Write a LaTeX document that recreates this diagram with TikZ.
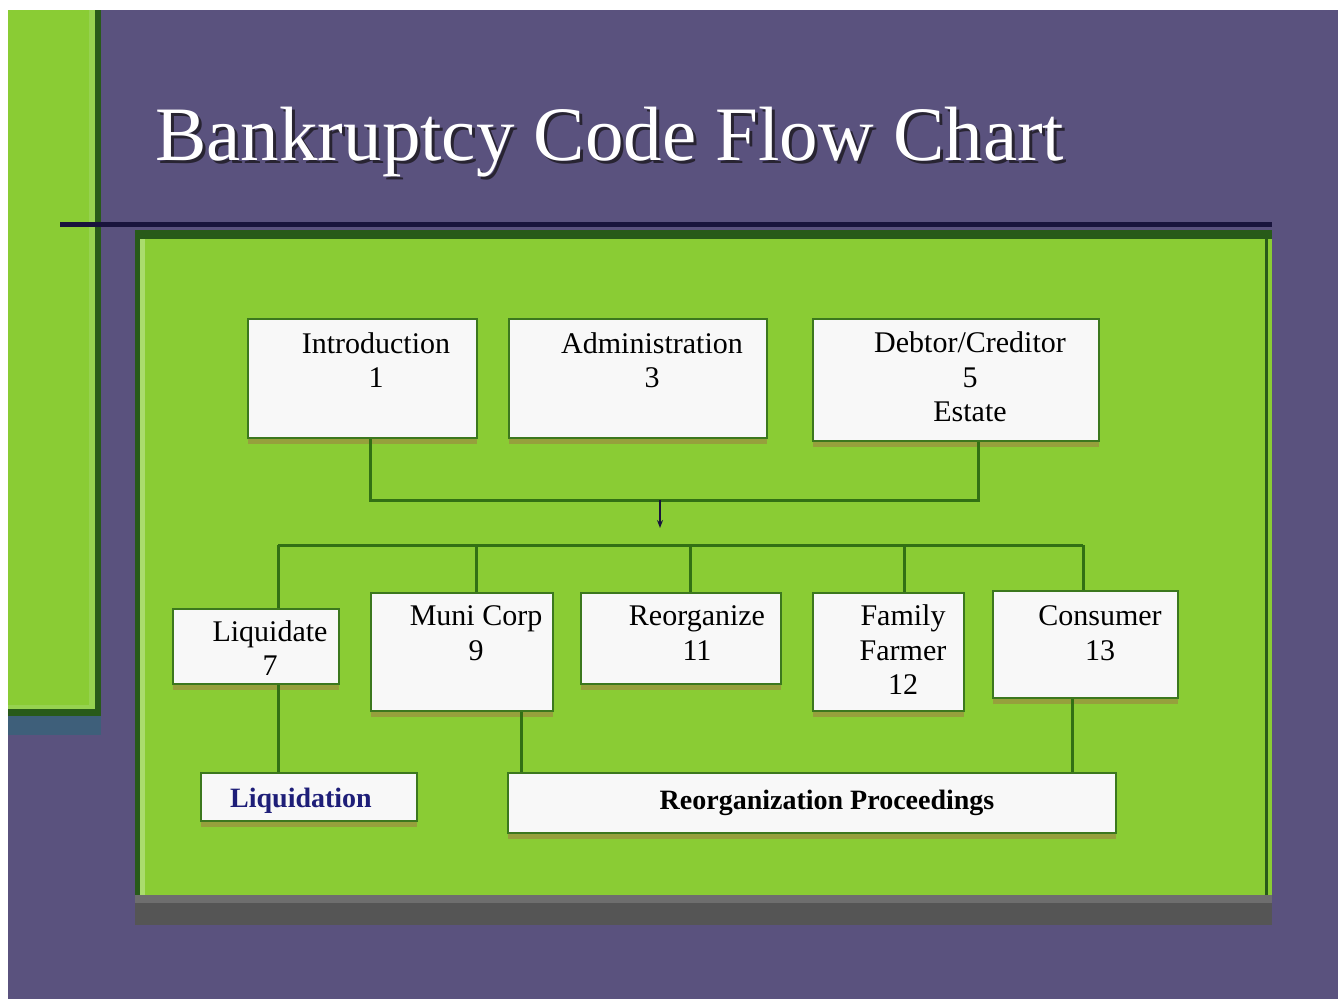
\documentclass[tikz,border=0pt]{standalone}
\usepackage{fontspec}
\setmainfont{Liberation Serif}
\usetikzlibrary{shadows,arrows.meta}
\definecolor{bgpurple}{RGB}{90,82,126}
\definecolor{panelgreen}{RGB}{138,204,52}
\definecolor{lightgreen}{RGB}{170,220,110}
\definecolor{softgreen}{RGB}{150,210,80}
\definecolor{paneledge}{RGB}{40,90,25}
\definecolor{linegreen}{RGB}{50,112,20}
\definecolor{boxfill}{RGB}{248,248,248}
\definecolor{boxedge}{RGB}{60,120,30}
\definecolor{boxshadow}{RGB}{150,160,60}
\definecolor{navyline}{RGB}{25,20,60}
\definecolor{greyshadow}{RGB}{85,85,85}
\definecolor{greylight}{RGB}{110,110,110}
\definecolor{stripblue}{RGB}{62,95,122}
\definecolor{liqblue}{RGB}{30,30,120}
\definecolor{titleshadow}{RGB}{40,36,50}
\begin{document}
\begin{tikzpicture}[x=0.5pt,y=-0.5pt,
  box/.style={draw=boxedge, line width=1pt, fill=boxfill, inner sep=0pt, anchor=north west,
    drop shadow={shadow xshift=0pt, shadow yshift=-3pt, fill=boxshadow, opacity=1}},
  lbl/.style={font=\fontsize{15}{17.25}\selectfont, align=center, inner sep=0pt, text=black},
  blbl/.style={font=\fontsize{14}{16}\selectfont\bfseries, inner sep=0pt},
  conn/.style={draw=linegreen, line width=1.5pt}]
\useasboundingbox (0,0) rectangle (1338,998);
\fill[white] (0,0) rectangle (1338,998);
\fill[bgpurple] (8,10) rectangle (1339,999);
% left strip
\fill[stripblue] (8,716) rectangle (101,735);
\fill[panelgreen] (8,10) rectangle (101,710);
\fill[softgreen] (89,10) rectangle (95,710);
\fill[paneledge] (95,10) rectangle (101,716);
\fill[softgreen] (8,705) rectangle (95,709);
\fill[paneledge] (8,709) rectangle (101,716);
% title rule
\fill[navyline] (60,222) rectangle (1272,227);
% main panel
\fill[greyshadow] (135,893) rectangle (1272,925);
\fill[greylight] (135,893) rectangle (1272,903);
\fill[panelgreen] (135,232) rectangle (1272,895);
\fill[paneledge] (135,230) rectangle (1272,239);
\fill[paneledge] (135,230) rectangle (140,895);
\fill[lightgreen] (140,239) rectangle (145,895);
\fill[paneledge] (1265,239) rectangle (1268,895);
% title
\node[font=\fontsize{38.5}{44}\selectfont, text=titleshadow, anchor=base west, inner sep=0pt] (title-sh) at (158,163) {Bankruptcy Code Flow Chart};
\node[font=\fontsize{38.5}{44}\selectfont, text=white, anchor=base west, inner sep=0pt] (title) at (155,160) {Bankruptcy Code Flow Chart};
% top boxes
\node[box, minimum width=114.5pt, minimum height=59.5pt] (intro) at (247,318) {};
\node[box, minimum width=129pt, minimum height=59.5pt] (admin) at (508,318) {};
\node[box, minimum width=143pt, minimum height=61pt] (debtor) at (812,318) {};
\node[lbl] (intro-t) at (376,360) {Introduction\\1};
\node[lbl] (admin-t) at (652,360) {Administration\\3};
\node[lbl] (debtor-t) at (970,377) {Debtor/Creditor\\5\\Estate};
% lower boxes
\node[box, minimum width=83pt, minimum height=37.5pt] (liq) at (172,608) {};
\node[box, minimum width=91pt, minimum height=59pt] (muni) at (370,592) {};
\node[box, minimum width=100pt, minimum height=45.5pt] (reorg) at (580,592) {};
\node[box, minimum width=75.5pt, minimum height=59pt] (farmer) at (812,592) {};
\node[box, minimum width=92.5pt, minimum height=53.5pt] (consumer) at (992,590) {};
\node[lbl] (liq-t) at (270,648) {Liquidate\\7};
\node[lbl] (muni-t) at (476,633) {Muni Corp\\9};
\node[lbl] (reorg-t) at (697,633) {Reorganize\\11};
\node[lbl] (farmer-t) at (903,650) {Family\\Farmer\\12};
\node[lbl] (consumer-t) at (1100,633) {Consumer\\13};
% bottom boxes
\node[box, minimum width=108pt, minimum height=24pt] (liquidation) at (200,772) {};
\node[box, minimum width=304pt, minimum height=30pt] (reorgproc) at (507,772) {};
\node[blbl, text=liqblue, anchor=base] (liquidation-t) at (301,807) {Liquidation};
\node[blbl, text=black, anchor=base] (reorgproc-t) at (827,809) {Reorganization Proceedings};
% connectors
\coordinate (jl) at (370,500);
\coordinate (jr) at (978,500);
\coordinate (jm) at (660,500);
\coordinate (tip) at (660,528);
\draw[conn] (intro.south -| jl) -- (jl) -- (jr) -- (debtor.south -| jr);
\draw[draw=navyline, line width=1pt, -{Stealth[length=4pt,width=3pt]}] (jm) -- (tip);
\coordinate (bl) at (278,545);
\coordinate (br) at (1083,545);
\coordinate (bm) at (476,545);
\coordinate (bo) at (690,545);
\coordinate (bf) at (904,545);
\draw[conn] (bl) -- (br);
\draw[conn] (bl) -- (liq.north -| bl);
\draw[conn] (bm) -- (muni.north -| bm);
\draw[conn] (bo) -- (reorg.north -| bo);
\draw[conn] (bf) -- (farmer.north -| bf);
\draw[conn] (br) -- (consumer.north -| br);
\coordinate (cl) at (278,740);
\coordinate (cm) at (521,740);
\coordinate (cc) at (1072,740);
\draw[conn] (liq.south -| cl) -- (liquidation.north -| cl);
\draw[conn] (muni.south -| cm) -- (reorgproc.north -| cm);
\draw[conn] (consumer.south -| cc) -- (reorgproc.north -| cc);
\end{tikzpicture}
\end{document}
